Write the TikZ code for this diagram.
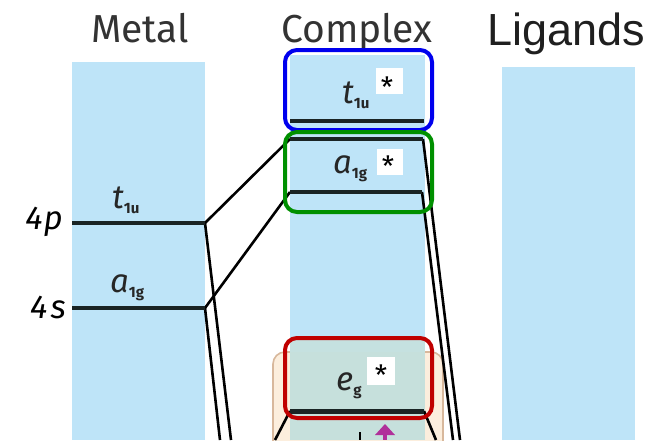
\documentclass[tikz,border=0pt]{standalone}
\usepackage{fontspec}
\setmainfont{Fira Sans}
\newfontfamily\ligfont{Liberation Sans}
\definecolor{colblue}{HTML}{BEE4F8}
\definecolor{titlegray}{HTML}{333333}
\definecolor{beigefill}{HTML}{FCEEDD}
\definecolor{beigeline}{HTML}{D8B89C}
\definecolor{tealfill}{HTML}{C6E0DC}
\definecolor{boxblue}{HTML}{0000EE}
\definecolor{boxgreen}{HTML}{009000}
\definecolor{boxred}{HTML}{C00000}
\definecolor{spinmag}{HTML}{B0309A}
\definecolor{levdark}{HTML}{1A2424}
\newcommand\levfont{\fontsize{33}{33}\selectfont\itshape}
\newcommand\subfont{\fontsize{15}{15}\selectfont\upshape\bfseries}
\newcommand\lev[2]{{\levfont #1}\raisebox{-5pt}{\subfont #2}}
\tikzset{
  column/.style={fill=colblue, draw=none},
  level/.style={line width=4.5pt, levdark},
  conn/.style={line width=2.6pt, black},
  grp/.style={rounded corners=12pt, line width=4pt},
  title/.style={anchor=base, inner sep=0, text=titlegray, font=\fontsize{39}{40}\selectfont},
  lab/.style={anchor=base west, inner sep=0, text=black!85},
  starbg/.style={fill=white, draw=none},
  starlab/.style={anchor=north, inner sep=0, font=\fontsize{28}{28}\selectfont},
}
\begin{document}
\begin{tikzpicture}[x=1pt,y=-1pt]
\clip (0,0) rectangle (670,440);
\fill[white] (0,0) rectangle (670,440);
% columns
\fill[column] (72,62) rectangle (205,440);
\fill[column] (290,55) rectangle (425,440);
\fill[column] (502,67) rectangle (635,440);
% beige box
\filldraw[fill=beigefill, draw=beigeline, line width=1.6pt, rounded corners=12pt] (273,352) rectangle (443,470);
\fill[tealfill] (290,352) rectangle (425,440);
\fill[tealfill!85!colblue] (290,338) rectangle (425,352);
% titles
\node[title] (tmetal) at (140,42) {Metal};
\node[title] (tcomplex) at (357,42) {Complex};
\node[anchor=base, inner sep=0, text=black!88, font=\ligfont\fontsize{45}{45}\selectfont] (tlig) at (566,45) {Ligands};
% level coordinates
\coordinate (p4L) at (72,223);  \coordinate (p4R) at (205,223);
\coordinate (s4L) at (72,308);  \coordinate (s4R) at (205,308);
\coordinate (tuL) at (290,121); \coordinate (tuR) at (424,121);
\coordinate (agTL) at (290,139); \coordinate (agTR) at (423,139);
\coordinate (agBL) at (290,192); \coordinate (agBR) at (422,192);
\coordinate (egL) at (290,411); \coordinate (egR) at (424,411);
% free ends
\coordinate (p4D) at (231,440);
\coordinate (s4D) at (220,440);
\coordinate (agTD) at (460,440);
\coordinate (agBD) at (453,440);
\coordinate (egLD) at (275,440);
\coordinate (egRD) at (436,440);
% connectors
\draw[conn] (p4R) -- (agTL);
\draw[conn] (s4R) -- (agBL);
\draw[conn] (p4R) -- (p4D);
\draw[conn] (s4R) -- (s4D);
\draw[conn] (agTR) -- (agTD);
\draw[conn] (agBR) -- (agBD);
\draw[conn] (egL) -- (egLD);
\draw[conn] (egR) -- (egRD);
% levels
\draw[level] (p4L) -- (p4R);
\draw[level] (s4L) -- (s4R);
\draw[level] (tuL) -- (tuR);
\draw[level] (agTL) -- (agTR);
\draw[level] (agBL) -- (agBR);
\draw[level, line width=5pt] (egL) -- (egR);
% level labels metal
\node[anchor=east, inner sep=0, font=\fontsize{33}{33}\selectfont\itshape] (l4p) at (63,222) {4\kern1pt p};
\node[anchor=east, inner sep=0, font=\fontsize{33}{33}\selectfont\itshape] (l4s) at (66,307) {4\kern3pt s};
\node[lab] (mtu) at (112,208) {\lev{t}{1u}};
\node[lab] (mag) at (110,292) {\lev{a}{1g}};
% complex labels
\node[lab] (ctu) at (342,103) {\lev{t}{1u}};
\node[lab] (cag) at (333,173) {\lev{a}{1g}};
\node[lab] (ceg) at (336,390) {\lev{e}{g}};
\fill[starbg] (376,68) rectangle (403,94);
\fill[starbg] (377,149) rectangle (403,175);
\fill[starbg] (367,357) rectangle (395,385);
\node[starlab] (stu) at (387,77) {*};
\node[starlab] (sag) at (388,156) {*};
\node[starlab] (seg) at (381,365) {*};
% spin arrows (partial)
\coordinate (upA) at (385,424);
\coordinate (dnA) at (360,432);
\fill[spinmag] (upA) -- ++(10,11) -- ++(-20,0) -- cycle;
\draw[spinmag, line width=3.5pt] (385,433) -- (385,440);
\draw[black, line width=2pt] (dnA) -- (360,440);
% group boxes
\draw[grp, boxblue] (285,50) rectangle (432,130);
\draw[grp, boxgreen] (285,132) rectangle (432,212);
\draw[grp, boxred] (285,338) rectangle (432,418);
\end{tikzpicture}
\end{document}
